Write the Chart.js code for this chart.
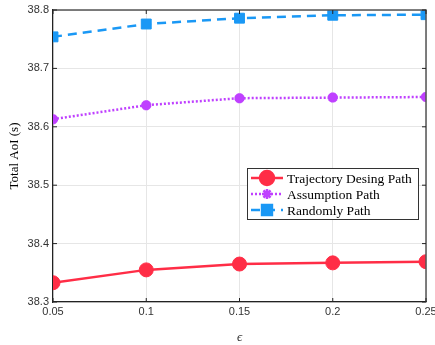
<!DOCTYPE html>
<html>
<head>
<meta charset="utf-8">
<style>
  html, body { margin: 0; padding: 0; background: #ffffff; }
  #wrap { width: 435px; height: 345px; position: relative; }
</style>
<script src="https://cdn.jsdelivr.net/npm/chart.js@4.4.1/dist/chart.umd.min.js"></script>
</head>
<body>
<div id="wrap"><canvas id="c" width="435" height="345"></canvas></div>
<script>
// Probability values on the x axis
const epsilonValues = [0.05, 0.1, 0.15, 0.2, 0.25];
const xTickLabels = ['0.05', '0.1', '0.15', '0.2', '0.25'];
const yTickLabels = ['38.3', '38.4', '38.5', '38.6', '38.7', '38.8'];

// Total AoI per path strategy
const trajectoryDesign = [38.333, 38.355, 38.365, 38.367, 38.369];
const assumption = [38.613, 38.637, 38.649, 38.650, 38.651];
const randomly = [38.754, 38.776, 38.786, 38.791, 38.792];

const seriesNames = ['Trajectory Desing Path', 'Assumption Path', 'Randomly Path'];

const toPoints = (vals) => vals.map((v, i) => ({ x: epsilonValues[i], y: v }));

// Frame around plot area plus inward tick marks
const framePlugin = {
  id: 'frame',
  afterDraw(chart) {
    const { ctx, chartArea: a, scales } = chart;
    ctx.save();
    ctx.strokeStyle = '#555555';
    ctx.lineWidth = 1.5;
    ctx.beginPath();
    ctx.moveTo(a.left, a.top);
    ctx.lineTo(a.right, a.top);
    ctx.lineTo(a.right, a.bottom);
    ctx.stroke();
    ctx.strokeStyle = '#222222';
    ctx.lineWidth = 1;
    ctx.beginPath();
    yTickLabels.forEach(t => {
      const y = scales.y.getPixelForValue(parseFloat(t));
      ctx.moveTo(a.left, y); ctx.lineTo(a.left + 4, y);
      ctx.moveTo(a.right, y); ctx.lineTo(a.right - 4, y);
    });
    epsilonValues.forEach(v => {
      const x = scales.x.getPixelForValue(v);
      ctx.moveTo(x, a.bottom); ctx.lineTo(x, a.bottom - 4);
      ctx.moveTo(x, a.top); ctx.lineTo(x, a.top + 4);
    });
    ctx.stroke();
    ctx.restore();
  }
};

// Legend box drawn inside the plot area
const innerLegend = {
  id: 'innerLegend',
  afterDraw(chart) {
    const { ctx, chartArea: a } = chart;
    const x0 = a.left + 194, y0 = a.top + 158, w = 171, h = 51;
    ctx.save();
    ctx.fillStyle = '#ffffff';
    ctx.fillRect(x0, y0, w, h);
    ctx.strokeStyle = '#333333';
    ctx.lineWidth = 1;
    ctx.strokeRect(x0 + 0.5, y0 + 0.5, w, h);
    ctx.font = '13.5px "Liberation Serif", "Times New Roman", serif';
    ctx.textBaseline = 'middle';
    chart.data.datasets.forEach((ds, i) => {
      const cy = y0 + 10 + i * 16;
      const lx0 = x0 + 4, lx1 = x0 + 36;
      ctx.strokeStyle = ds.borderColor;
      ctx.lineWidth = ds.borderWidth;
      ctx.setLineDash(ds.borderDash || []);
      ctx.beginPath();
      ctx.moveTo(lx0, cy); ctx.lineTo(lx1, cy);
      ctx.stroke();
      ctx.setLineDash([]);
      ctx.fillStyle = ds.pointBackgroundColor;
      ctx.strokeStyle = ds.pointBorderColor;
      Chart.helpers.drawPoint(ctx, {
        pointStyle: ds.pointStyle,
        radius: ds.pointRadius,
        borderWidth: ds.pointBorderWidth || 1,
        rotation: 0
      }, (lx0 + lx1) / 2, cy);
      ctx.fillStyle = '#000000';
      ctx.fillText(ds.label, x0 + 40, cy + 1);
    });
    ctx.restore();
  }
};

const chart = new Chart(document.getElementById('c'), {
  type: 'line',
  data: {
    datasets: [
      {
        label: seriesNames[0],
        data: toPoints(trajectoryDesign),
        borderColor: '#ff2d46',
        backgroundColor: '#ff2d46',
        borderWidth: 2.5,
        pointStyle: 'circle',
        pointRadius: 7,
        pointBorderWidth: 1,
        pointBackgroundColor: '#ff2d46',
        pointBorderColor: '#ff2d46'
      },
      {
        label: seriesNames[1],
        data: toPoints(assumption),
        borderColor: '#bf40ff',
        backgroundColor: '#bf40ff',
        borderWidth: 2.5,
        borderDash: [2, 2],
        pointStyle: 'star',
        pointRadius: 5,
        pointBorderWidth: 3.5,
        pointBackgroundColor: '#bf40ff',
        pointBorderColor: '#bf40ff'
      },
      {
        label: seriesNames[2],
        data: toPoints(randomly),
        borderColor: '#1a98f5',
        backgroundColor: '#1a98f5',
        borderWidth: 2.5,
        borderDash: [9, 6],
        pointStyle: 'rect',
        pointRadius: 7,
        pointBorderWidth: 1,
        pointBackgroundColor: '#1a98f5',
        pointBorderColor: '#1a98f5'
      }
    ]
  },
  options: {
    responsive: false,
    animation: false,
    devicePixelRatio: 1,
    layout: { padding: { top: 10, right: 9, left: 7, bottom: 0 } },
    plugins: {
      legend: { display: false },
      tooltip: { enabled: false }
    },
    elements: { line: { tension: 0 } },
    scales: {
      x: {
        type: 'linear',
        min: 0.05,
        max: 0.25,
        afterBuildTicks(scale) {
          scale.ticks = epsilonValues.map(v => ({ value: v }));
        },
        afterFit(scale) {
          scale.height = 43;
          scale.paddingLeft = 0;
          scale.paddingRight = 0;
        },
        ticks: {
          callback: (v) => xTickLabels[epsilonValues.findIndex(e => Math.abs(e - v) < 1e-9)],
          font: { family: '"Liberation Sans", Arial, sans-serif', size: 11 },
          color: '#333333',
          padding: 3,
          maxRotation: 0
        },
        grid: { color: '#e6e6e6', lineWidth: 1, tickLength: 0 },
        border: { color: '#222222', width: 1.2 },
        title: {
          display: true,
          text: 'ϵ',
          font: { family: '"Liberation Serif", "Times New Roman", serif', size: 13, style: 'italic' },
          color: '#333333',
          padding: { top: 3, bottom: 0 }
        }
      },
      y: {
        type: 'linear',
        min: 38.3,
        max: 38.8,
        afterBuildTicks(scale) {
          scale.ticks = yTickLabels.map(t => ({ value: parseFloat(t) }));
        },
        afterFit(scale) {
          scale.width = 46;
          scale.paddingTop = 0;
          scale.paddingBottom = 0;
        },
        ticks: {
          callback: (v) => yTickLabels.find(t => Math.abs(parseFloat(t) - v) < 1e-9),
          font: { family: '"Liberation Sans", Arial, sans-serif', size: 11 },
          color: '#333333',
          padding: 4
        },
        grid: { color: '#e6e6e6', lineWidth: 1, tickLength: 0 },
        border: { color: '#222222', width: 1.2 },
        title: {
          display: true,
          text: 'Total AoI (s)',
          font: { family: '"Liberation Serif", "Times New Roman", serif', size: 13 },
          color: '#000000',
          padding: { top: 0, bottom: 2 }
        }
      }
    }
  },
  plugins: [framePlugin, innerLegend]
});
</script>
</body>
</html>
